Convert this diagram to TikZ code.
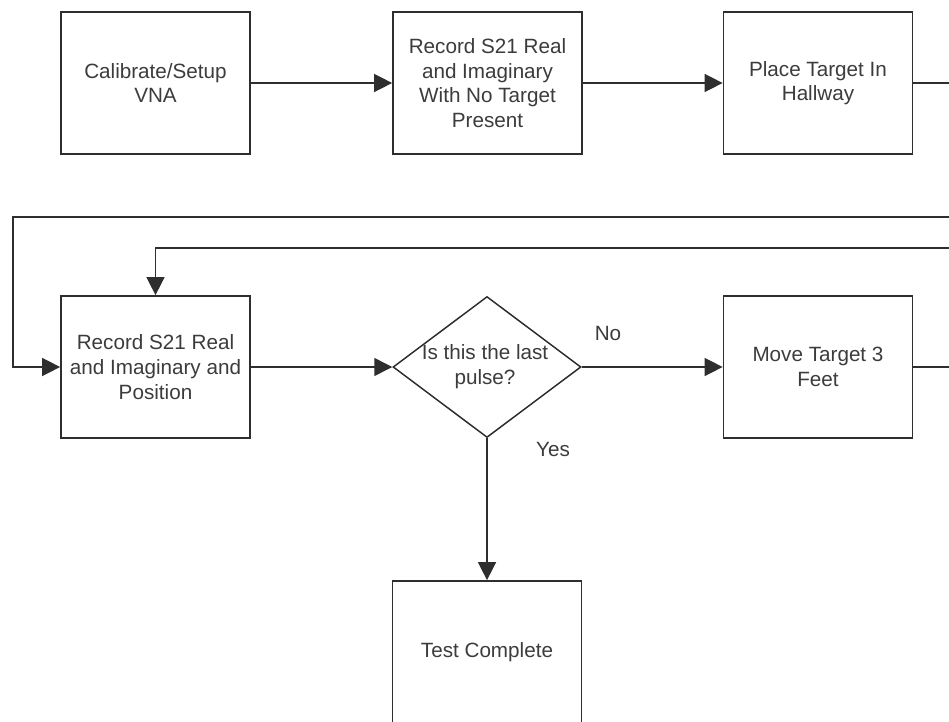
\documentclass[tikz,border=0pt]{standalone}
\usepackage{fontspec}
\setmainfont{Liberation Sans}
\usetikzlibrary{arrows.meta,shapes.geometric}
\definecolor{ink}{HTML}{2E2E2E}
\definecolor{txt}{HTML}{3C3C3C}
\begin{document}
\begin{tikzpicture}[x=0.75pt,y=-0.75pt,
  every node/.style={font=\fontsize{15.5}{18.5}\selectfont, text=txt, align=center},
  stepbox/.style={draw=ink, line width=1.3pt, minimum width=141.75pt, minimum height=106.5pt, inner sep=0pt},
  decbox/.style={diamond, draw=ink, line width=1.1pt, minimum width=141pt, minimum height=105.75pt, inner sep=0pt},
  flow/.style={draw=ink, line width=1.1pt, -{Triangle[length=13.5pt,width=13.5pt]}},
  plain/.style={draw=ink, line width=1.1pt}]
\clip (0,0) rectangle (949,721);
\fill[white] (0,0) rectangle (949,721);

% process steps
\node[stepbox] (calib) at (155.5,83) {Calibrate/Setup\\VNA};
\node[stepbox] (empty) at (487.5,83) {Record S21 Real\\and Imaginary\\With No Target\\Present};
\node[stepbox] (place) at (818,83) {Place Target In\\Hallway};
\node[stepbox] (rec) at (155.5,367) {Record S21 Real\\and Imaginary and\\Position};
\node[decbox] (last) at (487,367) {};
\node (lastq) at (485,366.5) {Is this the last\\pulse?};
\node[stepbox] (move) at (818,367) {Move Target 3\\Feet};
\node[stepbox] (done) at (487,652) {Test Complete};

% branch labels
\node (no) at (608,333) {No};
\node (yes) at (553,449) {Yes};

% loose ends of the wrap-around lines
\coordinate (outA) at (960,83);
\coordinate (inA) at (960,217);
\coordinate (cornA) at (13,217);
\coordinate (outB) at (960,367);
\coordinate (inB) at (960,248);

% connectors
\draw[flow] (calib) -- (empty);
\draw[flow] (empty) -- (place);
\draw[plain] (place.east) -- (outA);
\draw[flow] (inA) -- (cornA) |- (rec.west);
\draw[flow] (inB) -| (rec.north);
\draw[flow] (rec.east) -- (last.west);
\draw[flow] (last.east) -- (move.west);
\draw[plain] (move.east) -- (outB);
\draw[flow] (last.south) -- (done.north);
\end{tikzpicture}
\end{document}
